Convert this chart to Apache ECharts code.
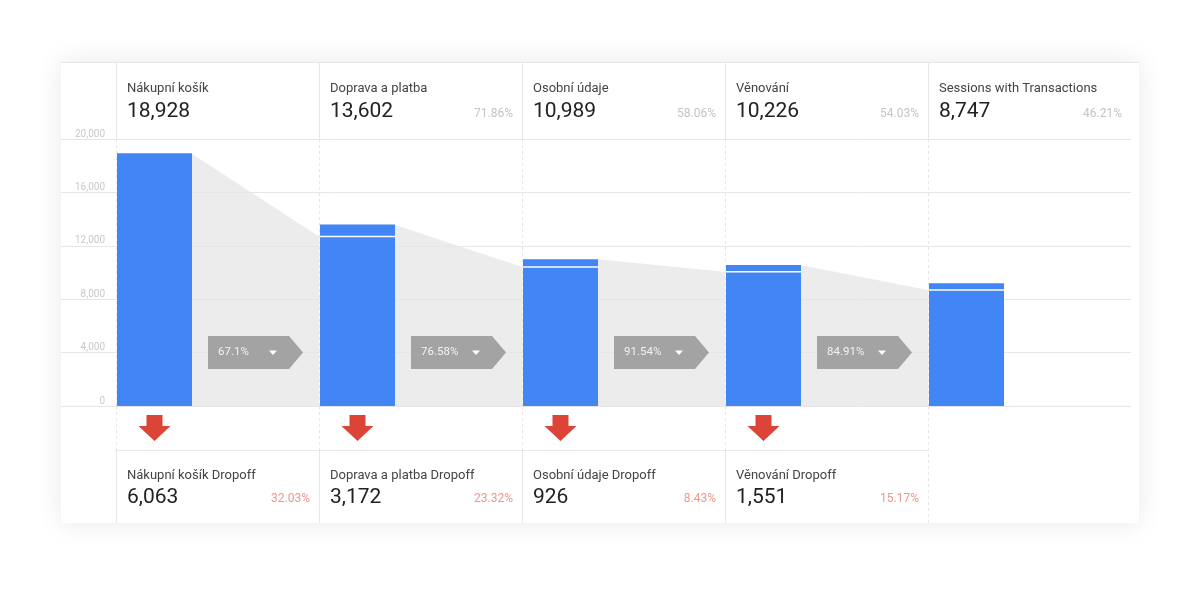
<!DOCTYPE html>
<html>
<head>
<meta charset="utf-8">
<script src="https://cdn.jsdelivr.net/npm/echarts@6/dist/echarts.min.js"></script>
<style>
  html, body { margin: 0; padding: 0; background: #fff; }
  #funnel { width: 1200px; height: 591px; }
</style>
</head>
<body>
<div id="funnel"></div>
<script>
// kroky trychtýře
const steps = ['Nákupní košík', 'Doprava a platba', 'Osobní údaje', 'Věnování', 'Sessions with Transactions']
const stepValues = [18928, 13602, 10989, 10226, 8747]
const stepPct = ['', '71.86%', '58.06%', '54.03%', '46.21%']
// spodní část sloupce = pokračující z předchozího kroku, horní = nové vstupy
const continued = [18928, 12701, 10416, 10059, 8683]
const entrances = [0, 901, 573, 503, 508]
const conversion = ['67.1%', '76.58%', '91.54%', '84.91%']
const dropLabels = ['Nákupní košík Dropoff', 'Doprava a platba Dropoff', 'Osobní údaje Dropoff', 'Věnování Dropoff']
const dropValues = [6063, 3172, 926, 1551]
const dropPct = ['32.03%', '23.32%', '8.43%', '15.17%']
const yTicks = [0, 4000, 8000, 12000, 16000, 20000]

const FONT = 'Roboto, "Noto Sans", sans-serif'
const BAR = 75 / 203
const Y_MAX = yTicks[yTicks.length - 1]
const LINE = '#e6e6e6'
const fmt = v => v.toLocaleString('en-US')

const chart = echarts.init(document.getElementById('funnel'))

function txt (x, y, text, size, color, align) {
  return {
    type: 'text',
    x: x,
    y: y,
    style: {
      text: text,
      fill: color,
      fontSize: size,
      fontFamily: FONT,
      align: align || 'left',
      verticalAlign: 'middle'
    }
  }
}

function seg (x1, y1, x2, y2, dashed) {
  return {
    type: 'line',
    shape: { x1: x1, y1: y1, x2: x2, y2: y2 },
    style: { stroke: LINE, lineWidth: 1, lineDash: dashed ? [3, 3] : null }
  }
}

// šedá plocha mezi sloupci
function renderArea (params, api) {
  const i = api.value(0)
  const pts = [
    api.coord([i + BAR, api.value(1)]),
    api.coord([i + 1, api.value(2)]),
    api.coord([i + 1, 0]),
    api.coord([i + BAR, 0])
  ]
  return { type: 'polygon', shape: { points: pts }, style: { fill: '#ececec' } }
}

function renderBar (params, api) {
  const i = api.value(0)
  const cont = api.value(1)
  const extra = api.value(2)
  const p0 = api.coord([i, 0])
  const pTop = api.coord([i + BAR, cont + extra])
  const children = [{
    type: 'rect',
    shape: { x: p0[0] + 1, y: pTop[1], width: pTop[0] - p0[0], height: p0[1] - pTop[1] },
    style: { fill: '#4285f4' }
  }]
  if (extra > 0) {
    const pl = api.coord([i, cont])
    children.push({
      type: 'line',
      shape: { x1: p0[0] + 1, y1: pl[1], x2: pTop[0] + 1, y2: pl[1] },
      style: { stroke: '#ffffff', lineWidth: 1.5 }
    })
  }
  return { type: 'group', children: children }
}

function renderTag (params, api) {
  const i = api.value(0)
  const p = api.coord([i + BAR, 4000])
  const x = p[0] + 17
  const y = p[1]
  return {
    type: 'group',
    children: [
      {
        type: 'polygon',
        shape: { points: [[x, y - 16.5], [x + 81, y - 16.5], [x + 95, y], [x + 81, y + 16.5], [x, y + 16.5]] },
        style: { fill: '#a3a3a3' }
      },
      txt(x + 10, y, conversion[i], 11.5, '#f2f2f2'),
      {
        type: 'polygon',
        shape: { points: [[x + 61, y - 2], [x + 69, y - 2], [x + 65, y + 2.5]] },
        style: { fill: '#ffffff' }
      }
    ]
  }
}

function renderArrow (params, api) {
  const i = api.value(0)
  const p = api.coord([i + BAR / 2, 0])
  const x = p[0] + 1
  const y = p[1]
  return {
    type: 'polygon',
    shape: {
      points: [[x - 8, y + 9], [x + 8, y + 9], [x + 8, y + 20], [x + 16, y + 20],
        [x, y + 35], [x - 16, y + 20], [x - 8, y + 20]]
    },
    style: { fill: '#db4437' }
  }
}

function renderHeader (params, api) {
  const i = api.value(0)
  const p = api.coord([i, Y_MAX])
  const w = api.coord([i + 1, Y_MAX])[0] - p[0]
  const x = p[0]
  const y = p[1]
  const children = [
    seg(x + 0.5, y - 76, x + 0.5, y),
    txt(x + 11, y - 50, steps[i], 13, '#444444'),
    txt(x + 11, y - 27, fmt(stepValues[i]), 21, '#212121')
  ]
  if (stepPct[i]) children.push(txt(x + w - 9, y - 25, stepPct[i], 12, '#c4c4c4', 'right'))
  return { type: 'group', children: children }
}

function renderDivider (params, api) {
  const i = api.value(0)
  const top = api.coord([i, Y_MAX])
  const bottom = api.coord([i, 0])
  const x = top[0] + 0.5
  const end = i < dropValues.length ? bottom[1] + 44 : bottom[1] + 117
  return {
    type: 'group',
    children: [seg(x, top[1], x, bottom[1], true), seg(x, bottom[1], x, end, true)]
  }
}

function renderFooter (params, api) {
  const i = api.value(0)
  const p = api.coord([i, 0])
  const w = api.coord([i + 1, 0])[0] - p[0]
  const x = p[0]
  const y = p[1]
  return {
    type: 'group',
    children: [
      seg(x, y + 44.5, x + w, y + 44.5),
      seg(x + 0.5, y + 44, x + 0.5, y + 117),
      txt(x + 11, y + 70, dropLabels[i], 13, '#444444'),
      txt(x + 11, y + 92, fmt(dropValues[i]), 21, '#212121'),
      txt(x + w - 9, y + 93, dropPct[i], 12, '#f0958c', 'right')
    ]
  }
}

const idx = steps.map((s, i) => i)
const dropIdx = dropValues.map((s, i) => i)
const areaData = conversion.map((c, i) => [i, continued[i] + entrances[i], continued[i + 1]])
const barData = steps.map((s, i) => [i, continued[i], entrances[i]])

chart.setOption({
  animation: false,
  graphic: [
    {
      type: 'rect',
      z: -10,
      shape: { x: 61, y: 62, width: 1078, height: 461 },
      style: { fill: '#ffffff', shadowBlur: 26, shadowColor: 'rgba(0,0,0,0.09)' }
    },
    {
      type: 'line',
      z: -9,
      shape: { x1: 61, y1: 62.5, x2: 1139, y2: 62.5 },
      style: { stroke: LINE, lineWidth: 1 }
    }
  ],
  grid: { left: 61, right: 69, top: 139, bottom: 185 },
  xAxis: {
    type: 'value',
    min: -55 / 203,
    max: steps.length,
    show: false
  },
  yAxis: {
    type: 'value',
    min: 0,
    max: Y_MAX,
    interval: yTicks[1] - yTicks[0],
    axisLine: { show: false },
    axisTick: { show: false },
    splitLine: { lineStyle: { color: LINE, width: 1 } },
    axisLabel: {
      inside: true,
      margin: 44,
      align: 'right',
      verticalAlign: 'bottom',
      color: '#c8c8c8',
      fontSize: 10,
      fontFamily: FONT,
      formatter: v => fmt(v)
    }
  },
  series: [
    { type: 'custom', z: -1, clip: false, renderItem: renderArea, data: areaData },
    { type: 'custom', z: 1, clip: false, renderItem: renderDivider, data: idx.map(i => [i]) },
    { type: 'custom', z: 2, clip: false, renderItem: renderBar, data: barData },
    { type: 'custom', z: 3, clip: false, renderItem: renderTag, data: conversion.map((c, i) => [i]) },
    { type: 'custom', z: 3, clip: false, renderItem: renderArrow, data: dropIdx.map(i => [i]) },
    { type: 'custom', z: 3, clip: false, renderItem: renderHeader, data: idx.map(i => [i]) },
    { type: 'custom', z: 3, clip: false, renderItem: renderFooter, data: dropIdx.map(i => [i]) }
  ]
})
</script>
</body>
</html>
